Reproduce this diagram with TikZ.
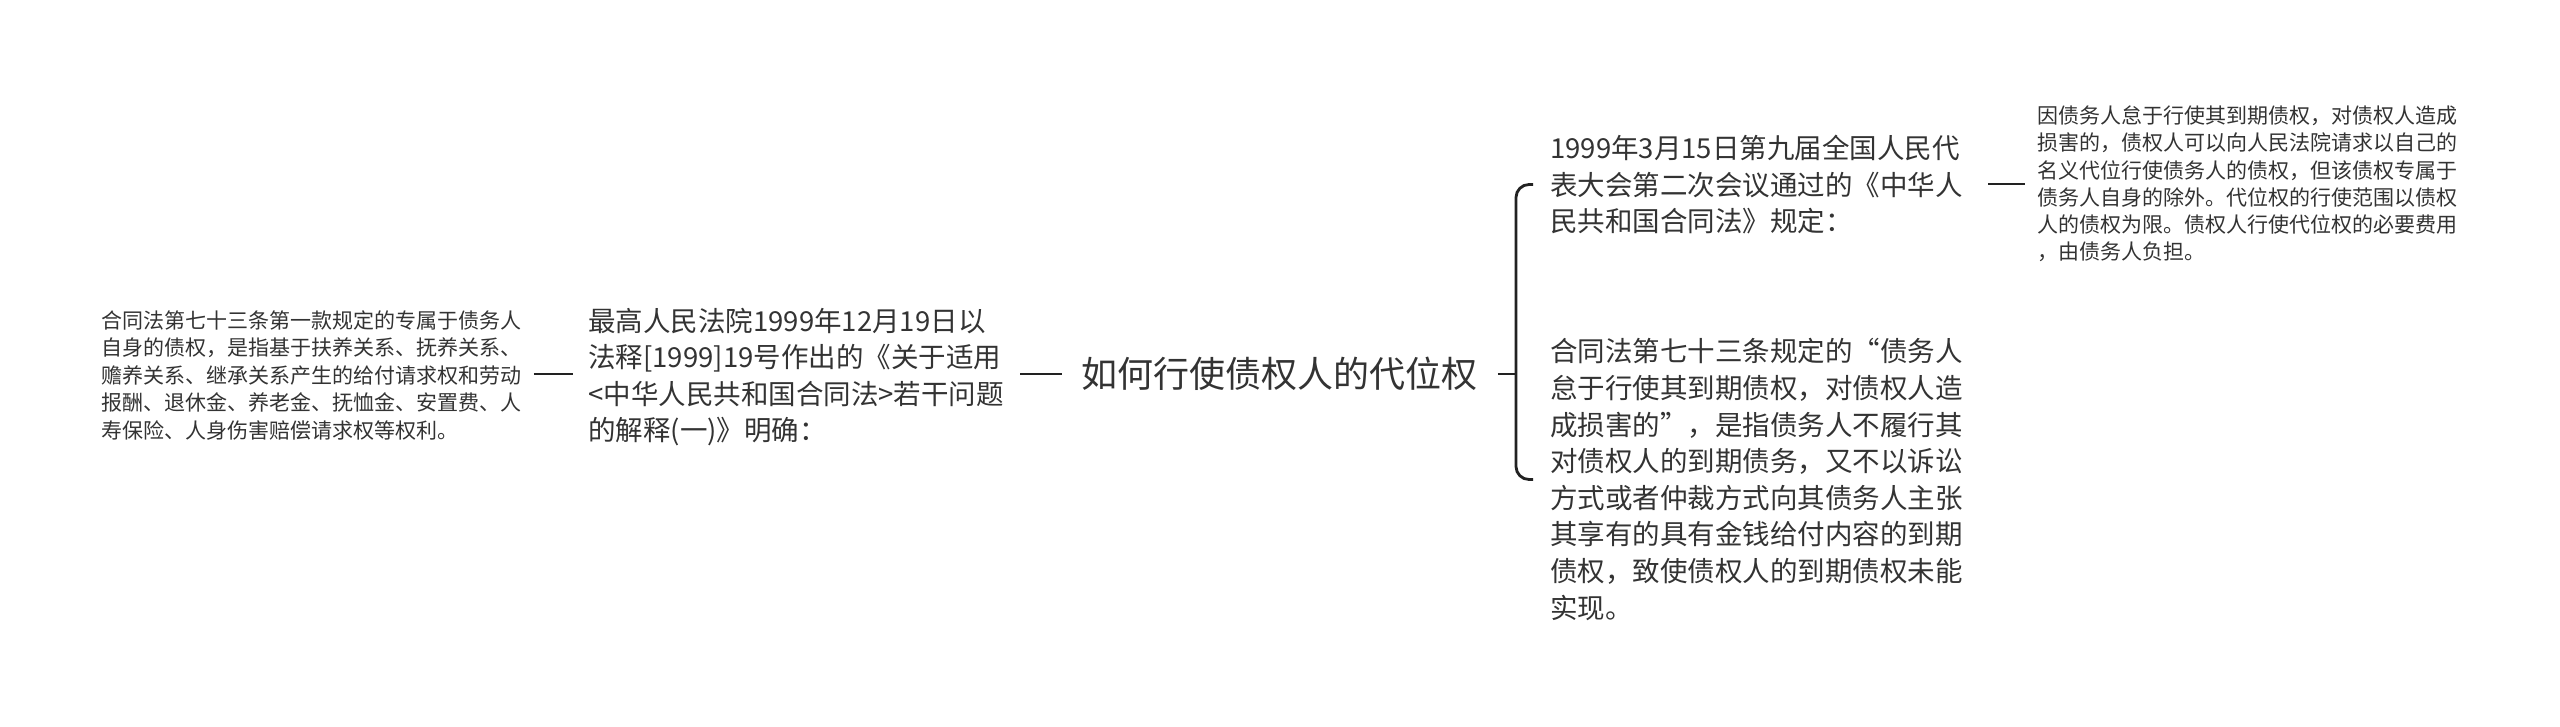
\documentclass[tikz,border=0pt]{standalone}
\usepackage{fontspec}
\setmainfont{Noto Sans CJK SC}
\definecolor{ink}{HTML}{333333}
\definecolor{lineink}{HTML}{222222}
\begin{document}
\begin{tikzpicture}[x=0.5pt,y=-0.5pt,
  txt/.style={anchor=west, inner sep=0pt, align=left, text=ink},
  small/.style={txt, font=\fontsize{10.5pt}{13.75pt}\selectfont},
  mid/.style={txt, font=\fontsize{13.75pt}{18.3pt}\selectfont},
  tiny/.style={txt, font=\fontsize{10.5pt}{13.65pt}\selectfont},
  rootstyle/.style={txt, font=\fontsize{18pt}{22pt}\selectfont},
  conn/.style={draw=lineink, line width=1.4pt}]
\useasboundingbox[fill=white] (0,0) rectangle (2560,727);
\node[small] (L1) at (101,375.5) {合同法第七十三条第一款规定的专属于债务人\\
自身的债权，是指基于扶养关系、抚养关系、\\
赡养关系、继承关系产生的给付请求权和劳动\\
报酬、退休金、养老金、抚恤金、安置费、人\\
寿保险、人身伤害赔偿请求权等权利。};
\node[mid] (M) at (588,377) {最高人民法院1999年12月19日以\\
法释[1999]19号作出的《关于适用\\
<中华人民共和国合同法>若干问题\\
的解释(一)》明确：};
\node[rootstyle] (R) at (1081,374) {如何行使债权人的代位权};
\node[mid] (TR) at (1550,184.5) {1999年3月15日第九届全国人民代\\
表大会第二次会议通过的《中华人\\
民共和国合同法》规定：};
\node[mid] (BR) at (1550,479.5) {合同法第七十三条规定的\makebox[1em][r]{“}债务人\\
怠于行使其到期债权，对债权人造\\
成损害的\makebox[1em][l]{”}，是指债务人不履行其\\
对债权人的到期债务，又不以诉讼\\
方式或者仲裁方式向其债务人主张\\
其享有的具有金钱给付内容的到期\\
债权，致使债权人的到期债权未能\\
实现。};
\node[tiny] (FR) at (2037,184) {因债务人怠于行使其到期债权，对债权人造成\\
损害的，债权人可以向人民法院请求以自己的\\
名义代位行使债务人的债权，但该债权专属于\\
债务人自身的除外。代位权的行使范围以债权\\
人的债权为限。债权人行使代位权的必要费用\\
，由债务人负担。};
\coordinate (J) at ([xshift=-17pt]TR.west |- R.west);
\draw[conn] ([xshift=6pt]R.west -| L1.east) -- ([xshift=-7.5pt]R.west -| M.west);
\draw[conn] ([xshift=8pt]R.west -| M.east) -- ([xshift=-9.5pt]R.west);
\draw[conn] ([xshift=10pt]R.east) -- (J);
\draw[conn, rounded corners=6.5pt] ([xshift=-8.5pt]TR.west) -| (J) |- ([xshift=-8.5pt]BR.west);
\draw[conn] ([xshift=12.5pt]FR.west -| TR.east) -- ([xshift=-6pt]FR.west);
\end{tikzpicture}
\end{document}
